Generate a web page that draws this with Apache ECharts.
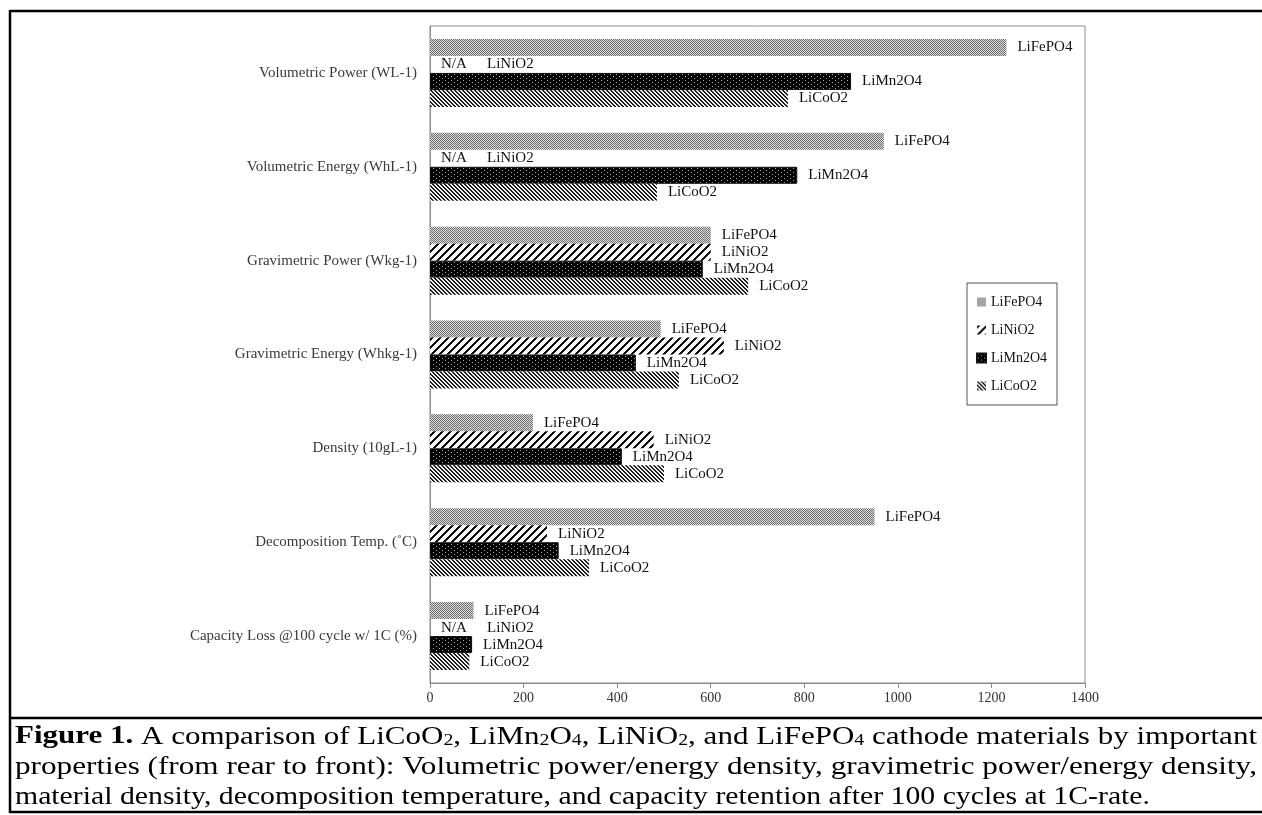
<!DOCTYPE html>
<html>
<head>
<meta charset="utf-8">
<script src="https://cdn.jsdelivr.net/npm/echarts@6/dist/echarts.min.js"></script>
<style>
  html, body { margin: 0; padding: 0; background: #fff; }
  #chart { width: 1262px; height: 815px; }
</style>
</head>
<body>
<div id="chart"></div>
<script>
// categories, top to bottom
const categories = [
  "Volumetric Power (WL-1)",
  "Volumetric Energy (WhL-1)",
  "Gravimetric Power (Wkg-1)",
  "Gravimetric Energy (Whkg-1)",
  "Density (10gL-1)",
  "Decomposition Temp. (˚C)",
  "Capacity Loss @100 cycle w/ 1C (%)"
];
const materials = ["LiFePO4", "LiNiO2", "LiMn2O4", "LiCoO2"];
// null = N/A in the figure
const liFePO4 = [1232, 970, 600, 493, 220, 950, 93];
const liNiO2 = [null, null, 600, 628, 478, 250, null];
const liMn2O4 = [900, 785, 583, 440, 410, 275, 90];
const liCoO2 = [765, 485, 680, 532, 500, 340, 84];
const xTicks = { min: 0, max: 1400, step: 200 };

const serif = '"Liberation Serif", "Times New Roman", serif';

// small pixel tiles for the bar fills
function tile(w, h, paint) {
  const c = document.createElement("canvas");
  c.width = w;
  c.height = h;
  const g = c.getContext("2d");
  const img = g.createImageData(w, h);
  for (let y = 0; y < h; y++) {
    for (let x = 0; x < w; x++) {
      const v = paint(x, y);
      const i = (y * w + x) * 4;
      img.data[i] = img.data[i + 1] = img.data[i + 2] = v;
      img.data[i + 3] = 255;
    }
  }
  g.putImageData(img, 0, 0);
  return { image: c, repeat: "repeat" };
}

const fills = {
  LiFePO4: tile(2, 2, (x, y) => ((x + y) % 2 === 0 ? 110 : 220)),
  LiNiO2: tile(8, 8, (x, y) => ((x + y) % 8 < 3 ? 20 : 255)),
  LiMn2O4: tile(6, 4, (x, y) => ((x === 1 && y === 0) || (x === 4 && y === 2) ? 170 : 0)),
  LiCoO2: tile(4, 4, (x, y) => ((((x - y) % 4) + 4) % 4 < 2 ? 30 : 240))
};

const values = { LiFePO4: liFePO4, LiNiO2: liNiO2, LiMn2O4: liMn2O4, LiCoO2: liCoO2 };

const chart = echarts.init(document.getElementById("chart"));

const series = materials.map((name) => ({
  name,
  type: "bar",
  barWidth: 17,
  barGap: "0%",
  itemStyle: {
    color: fills[name],
    borderColor: name === "LiMn2O4" ? "#111" : "transparent",
    borderWidth: name === "LiMn2O4" ? 1 : 0
  },
  label: {
    show: true,
    position: "right",
    distance: 11,
    fontFamily: serif,
    fontSize: 15,
    color: "#111",
    formatter: name,
    rich: { na: { width: 46, fontFamily: serif, fontSize: 15, color: "#111" } }
  },
  data: values[name].map((v) =>
    v === null ? { value: 0, label: { formatter: "{na|N/A}" + name } } : v
  )
}));

// caption, drawn as rich text lines
const capFont = 25;
const captionLines = [
  [["b", "Figure 1."], ["n", " A comparison of LiCoO"], ["s", "2"], ["n", ", LiMn"], ["s", "2"], ["n", "O"], ["s", "4"],
   ["n", ", LiNiO"], ["s", "2"], ["n", ", and LiFePO"], ["s", "4"], ["n", " cathode materials by important"]],
  [["n", "properties (from rear to front): Volumetric power/energy density, gravimetric power/energy density,"]],
  [["n", "material density, decomposition temperature, and capacity retention after 100 cycles at 1C-rate."]]
];
const capRich = {
  n: { fontFamily: serif, fontSize: capFont, lineHeight: 24, color: "#000" },
  b: { fontFamily: serif, fontSize: capFont, fontWeight: "bold", lineHeight: 24, color: "#000" },
  s: { fontFamily: serif, fontSize: 16, lineHeight: 13, verticalAlign: "bottom", color: "#000" }
};
const meter = document.createElement("canvas").getContext("2d");
function lineWidth(runs) {
  let w = 0;
  runs.forEach(([k, t]) => {
    const st = capRich[k];
    meter.font = (st.fontWeight === "bold" ? "bold " : "") + st.fontSize + "px " + serif;
    w += meter.measureText(t).width;
  });
  return w;
}
const capLeft = 15;
const capEnds = [1257, 1257, 1150];
const scales = captionLines.map((r, i) => (capEnds[i] - capLeft) / lineWidth(r));
const captionY = [737, 767, 797];
const captionGraphics = captionLines.map((runs, i) => ({
  type: "text",
  x: capLeft,
  y: captionY[i],
  scaleX: scales[i],
  style: {
    text: runs.map(([k, t]) => "{" + k + "|" + t + "}").join(""),
    rich: capRich,
    fontFamily: serif,
    fontSize: capFont,
    lineHeight: 24,
    verticalAlign: "middle",
    fill: "#000"
  }
}));

const frameLine = (x1, y1, x2, y2) => ({
  type: "line",
  shape: { x1, y1, x2, y2 },
  style: { stroke: "#000", lineWidth: 2.5 }
});

chart.setOption({
  animation: false,
  backgroundColor: "#fff",
  grid: { left: 430, top: 26, right: 177, bottom: 132, show: true, borderColor: "#8c8c8c", borderWidth: 1 },
  legend: {
    data: materials,
    orient: "vertical",
    left: 967,
    top: 283,
    icon: "rect",
    itemWidth: 9,
    itemHeight: 9,
    itemGap: 12,
    padding: [11, 10, 11, 9],
    borderColor: "#555",
    borderWidth: 1,
    textStyle: { fontFamily: serif, fontSize: 14, color: "#111", lineHeight: 16 }
  },
  xAxis: {
    type: "value",
    min: xTicks.min,
    max: xTicks.max,
    interval: xTicks.step,
    splitLine: { show: false },
    axisLine: { show: true, lineStyle: { color: "#8c8c8c" } },
    axisTick: { show: true, length: 5, lineStyle: { color: "#8c8c8c" } },
    axisLabel: { fontFamily: serif, fontSize: 14, color: "#333", margin: 8, formatter: (v) => String(v) }
  },
  yAxis: {
    type: "category",
    inverse: true,
    data: categories,
    axisLine: { lineStyle: { color: "#8c8c8c" } },
    axisTick: { length: 5, lineStyle: { color: "#8c8c8c" } },
    axisLabel: { fontFamily: serif, fontSize: 15, color: "#3a3a3a", margin: 13 }
  },
  series,
  graphic: [
    frameLine(10, 11, 1262, 11),
    frameLine(10, 10, 10, 813),
    frameLine(10, 718, 1262, 718),
    frameLine(10, 812, 1262, 812),
    ...captionGraphics
  ]
});
</script>
</body>
</html>
